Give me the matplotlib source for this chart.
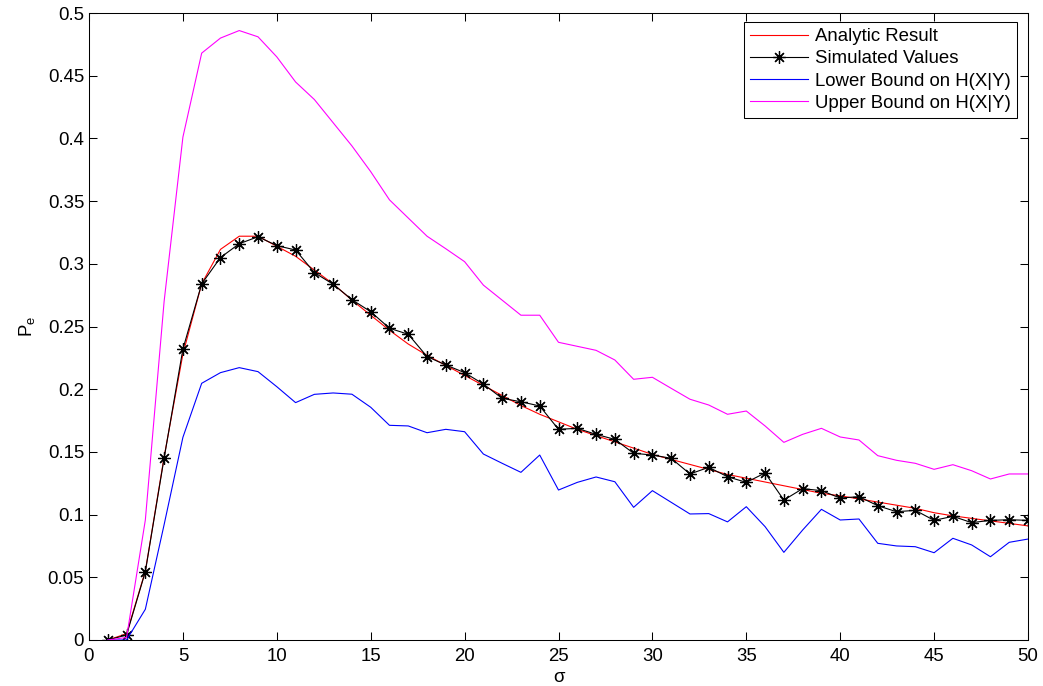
import numpy as np
import matplotlib as mpl
mpl.use("Agg")
import matplotlib.pyplot as plt
from matplotlib.ticker import FormatStrFormatter

mpl.rcParams.update({"font.family": ["Liberation Sans", "DejaVu Sans"],
                     "mathtext.fontset": "custom",
                     "mathtext.rm": "Liberation Sans",
                     "mathtext.it": "Liberation Sans",
                     "axes.unicode_minus": False})

sigma = list(range(1, 51))

analytic = [0.000, 0.005, 0.055, 0.146, 0.228, 0.284, 0.3115, 0.322, 0.322, 0.314,
            0.306, 0.295, 0.284, 0.271, 0.259, 0.247, 0.236, 0.227, 0.219, 0.211,
            0.203, 0.195, 0.187, 0.180, 0.174, 0.168, 0.163, 0.158, 0.153, 0.148,
            0.144, 0.140, 0.136, 0.132, 0.129, 0.126, 0.123, 0.120, 0.117, 0.115,
            0.1125, 0.110, 0.1075, 0.105, 0.1015, 0.099, 0.097, 0.095, 0.093, 0.091]

simulated = [0.000, 0.004, 0.0545, 0.145, 0.232, 0.284, 0.305, 0.316, 0.3216, 0.3145,
             0.311, 0.293, 0.2837, 0.2714, 0.2618, 0.2486, 0.2438, 0.226, 0.2193, 0.2132,
             0.2041, 0.1927, 0.190, 0.1866, 0.168, 0.1688, 0.164, 0.160, 0.1489, 0.1475,
             0.1449, 0.1324, 0.1377, 0.1302, 0.1257, 0.1332, 0.1116, 0.1207, 0.1191, 0.1132,
             0.1143, 0.1071, 0.1023, 0.1034, 0.0954, 0.0986, 0.0936, 0.0954, 0.0959, 0.0954]

lower = [0.000, 0.000, 0.0245, 0.092, 0.1616, 0.2047, 0.2132, 0.2172, 0.214, 0.202,
         0.1893, 0.1959, 0.197, 0.196, 0.1856, 0.1712, 0.1707, 0.1653, 0.168, 0.1661,
         0.1483, 0.1409, 0.1337, 0.1475, 0.1196, 0.1257, 0.130, 0.1262, 0.1058, 0.1191,
         0.1098, 0.1005, 0.1008, 0.0942, 0.1063, 0.0904, 0.0699, 0.0877, 0.1042, 0.0957,
         0.0965, 0.0771, 0.075, 0.0744, 0.0696, 0.0811, 0.0758, 0.0664, 0.0779, 0.0805]

upper = [0.000, 0.002, 0.0957, 0.27, 0.401, 0.468, 0.480, 0.486, 0.481, 0.465,
         0.445, 0.431, 0.4125, 0.394, 0.3735, 0.351, 0.3365, 0.322, 0.312, 0.3017,
         0.283, 0.271, 0.259, 0.259, 0.2374, 0.2342, 0.231, 0.2233, 0.2079, 0.2095,
         0.2007, 0.192, 0.1874, 0.180, 0.1826, 0.1707, 0.1576, 0.164, 0.1688, 0.1619,
         0.1595, 0.147, 0.1433, 0.1409, 0.1361, 0.1398, 0.135, 0.1284, 0.1324, 0.1324]


def main():
    fs = 13.4
    fig = plt.figure(figsize=(10.43, 6.86), dpi=100)
    ax = fig.add_axes([89 / 1043, 46 / 686, 939 / 1043, 627 / 686])

    lw = 0.8
    ax.plot(sigma, analytic, color=(1, 0, 0), lw=lw, label='Analytic Result')
    ax.plot(sigma, simulated, color='k', lw=lw, marker=(8, 2, 0), markersize=9,
            markeredgewidth=0.9, label='Simulated Values')
    ax.plot(sigma, lower, color=(0, 0, 1), lw=lw, label='Lower Bound on H(X|Y)')
    ax.plot(sigma, upper, color=(1, 0, 1), lw=lw, label='Upper Bound on H(X|Y)')

    ax.set_xlim(0, 50)
    ax.set_ylim(0, 0.5)
    ax.set_xticks(range(0, 51, 5))
    ax.set_yticks(np.arange(0, 0.501, 0.05))
    ax.yaxis.set_major_formatter(FormatStrFormatter('%g'))

    for s in ax.spines.values():
        s.set_linewidth(0.75)
    ax.tick_params(direction='in', top=True, right=True, length=6, width=0.75,
                   labelsize=fs)
    ax.tick_params(axis='x', pad=6)
    ax.tick_params(axis='y', pad=3.5)

    ax.set_xlabel('σ', fontsize=fs, labelpad=2.5)
    ax.set_ylabel(r'$\mathregular{P_e}$', fontsize=fs, labelpad=8)

    leg = ax.legend(loc='upper right', bbox_to_anchor=(1017 / 1043, 1 - 21.7 / 686),
                    bbox_transform=fig.transFigure, borderaxespad=0, fontsize=fs,
                    fancybox=False, framealpha=1, edgecolor='k', handlelength=3.1,
                    labelspacing=0.28, borderpad=0.35, handletextpad=0.35)
    leg.get_frame().set_linewidth(0.75)

    fig.savefig('out.png', dpi=100)


if __name__ == '__main__':
    main()
